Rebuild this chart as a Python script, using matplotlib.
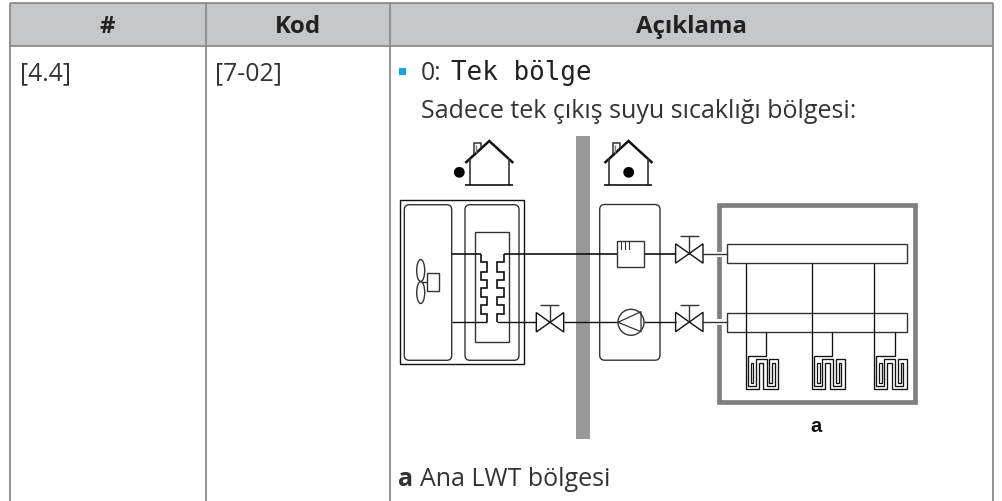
import matplotlib
matplotlib.use("Agg")
import matplotlib.pyplot as plt
from matplotlib.patches import Rectangle, Circle, FancyBboxPatch, Ellipse

# table text
col_headers = ["#", "Kod", "Açıklama"]
row_cells = ["[4.4]", "[7-02]"]
bullet_value = "0:"
bullet_name = "Tek bölge"
desc_line = "Sadece tek çıkış suyu sıcaklığı bölgesi:"
diagram_label = "a"
legend_key = "a"
legend_text = "Ana LWT bölgesi"

# table geometry (pixels)
col_x = [10, 206, 390, 993]
head_top = 3
head_bottom = 46
page_bottom = 501

fig = plt.figure(figsize=(10.03, 5.01), dpi=100)
ax = fig.add_axes([0, 0, 1, 1])
ax.set_xlim(0, 1003)
ax.set_ylim(501, 0)
ax.axis("off")

GRID = "#8a8a8a"
INK = "#111111"
SOFT = "#333333"
TEXT = "#333333"
FONT = "Open Sans"


def poly(xs, ys, c=INK, lw=1.0):
    ax.plot(xs, ys, color=c, lw=lw, solid_joinstyle="miter", solid_capstyle="butt")


def rounded(x0, y0, x1, y1, r=5, c=SOFT):
    ax.add_patch(FancyBboxPatch((x0 + r, y0 + r), x1 - x0 - 2 * r, y1 - y0 - 2 * r,
                                boxstyle=f"round,pad={r},rounding_size={r}",
                                fc="none", ec=c, lw=1.0))


def house(xc, dot_x):
    poly([xc - 24, xc, xc + 24], [163, 141, 163], lw=1.8)
    poly([xc - 19.5, xc - 19.5], [158, 185], c=SOFT, lw=1.2)
    poly([xc + 19.5, xc + 19.5], [158, 185], c=SOFT, lw=1.2)
    poly([xc - 24, xc + 24], [185, 185], lw=1.2)
    poly([xc - 15, xc - 15, xc - 8.5, xc - 8.5], [154, 143, 143, 148], c=SOFT, lw=1.1)
    poly([xc - 13.5, xc - 13.5], [145, 153], c="#777777", lw=1.0)
    ax.add_patch(Circle((dot_x, 172.3), 5.4, fc="black", ec="none"))


def valve(xc, yc):
    poly([xc, xc - 13.7, xc - 13.7, xc + 13.7, xc + 13.7, xc],
         [yc, yc - 9.7, yc + 9.7, yc - 9.7, yc + 9.7, yc], lw=1.0)
    poly([xc, xc], [yc, yc - 17.5], c=SOFT)
    poly([xc - 9.5, xc + 9.5], [yc - 17.5, yc - 17.5], c=SOFT)


loop_zx = [32, 32, 72, 72, 85, 85, 130, 130, 103, 103, 112, 112, 120, 120, 95, 95, 62, 62, 38, 38, 93, 93]
loop_zy = [0, 148, 148, 68, 68, 148, 148, 58, 58, 128, 128, 68, 68, 138, 138, 58, 58, 138, 138, 47, 47, 0]
inner_zx = [55, 48, 48, 55, 55]
inner_zy = [128, 128, 68, 68, 128]


def floor_coil(x0, xr, top):
    xs = [x0 + (z - 32) / 3 for z in loop_zx]
    ys = [340 + z / 3 for z in loop_zy]
    ys[0] = top
    xs[-1] = xs[-2] = xr
    ys[-1] = 332.3
    poly(xs, ys, lw=0.95)
    poly([x0 + (z - 32) / 3 for z in inner_zx], [340 + z / 3 for z in inner_zy], lw=0.9)


# table
ax.add_patch(Rectangle((col_x[0], head_top), col_x[3] - col_x[0], head_bottom - head_top,
                       fc="#c6c7c9", ec="none"))
poly([col_x[0], col_x[3]], [head_top, head_top], c=GRID, lw=1.3)
poly([col_x[0], col_x[3]], [head_bottom, head_bottom], c=GRID, lw=1.3)
for x in col_x:
    poly([x, x], [head_top, page_bottom], c=GRID, lw=1.3)

centers = [107.6, 298, 691.5]
for cx, t in zip(centers, col_headers):
    ax.text(cx, 26.5, t, ha="center", va="center", family=FONT, weight="bold", fontsize=17.3, color="#222222")

ax.text(20, 73.5, row_cells[0], va="center", family=FONT, fontsize=17.8, color=TEXT)
ax.text(215, 73.5, row_cells[1], va="center", family=FONT, fontsize=17.8, color=TEXT)

ax.add_patch(Rectangle((399.5, 68.3), 7, 6.7, fc="#12a5e0", ec="none"))
ax.text(420.5, 73.5, bullet_value, va="center", family=FONT, fontsize=17.8, color=TEXT)
ax.text(451.5, 72.5, bullet_name, va="center", family="DejaVu Sans Mono", fontsize=18.7, color="#222222")
ax.text(421, 111.5, desc_line, va="center", family=FONT, fontsize=18, color=TEXT)
ax.text(398, 479, legend_key, va="center", family=FONT, weight="bold", fontsize=18, color=TEXT)
ax.text(420, 479, legend_text, va="center", family=FONT, fontsize=18, color=TEXT)
ax.text(815.7, 426, diagram_label, ha="center", va="center", family="Liberation Sans", weight="bold",
        fontsize=14.5, color="#111111")

# houses and wall
house(489.3, 459.3)
house(628.5, 628.7)
ax.add_patch(Rectangle((576, 136), 14, 302.7, fc="#999999", ec="none"))

# outdoor unit
ax.add_patch(Rectangle((400.3, 200.3), 123.4, 164, fc="none", ec=INK, lw=1.0))
rounded(404.3, 204.7, 451.7, 360.3)
rounded(465, 204.7, 519, 360.3)
ax.add_patch(Rectangle((474.7, 231.7), 34.6, 110, fc="none", ec=SOFT, lw=1.0))

# fan and motor
ax.add_patch(Ellipse((420.7, 270.5), 8, 22, fc="none", ec=SOFT, lw=1.0))
ax.add_patch(Ellipse((420.7, 292.5), 8, 22, fc="none", ec=SOFT, lw=1.0))
ax.add_patch(Rectangle((427.3, 272.7), 11.4, 18, fc="none", ec=SOFT, lw=1.0))
poly([420.7, 427.3], [281.7, 281.7], c=SOFT)

# heat exchanger pipes
coil_y = [254, 261.7, 261.7, 271.7, 271.7, 280, 280, 288.3, 288.3, 296.7, 296.7, 305, 305, 314.3, 314.3, 322.3]
coil_l = [481, 481, 487.3, 487.3, 481, 481, 487.3, 487.3, 481, 481, 487.3, 487.3, 481, 481, 487.3, 487.3]
coil_r = [504, 504, 497.3, 497.3, 504, 504, 497.3, 497.3, 504, 504, 497.3, 497.3, 504, 504, 497.3, 497.3]
poly(coil_l, coil_y, lw=1.2)
poly(coil_r, coil_y, lw=1.2)

# pipes
poly([451.7, 481], [254, 254], lw=1.2)
poly([451.7, 487.3], [322.3, 322.3], lw=1.0)
poly([504, 617], [254, 254], lw=1.2)
poly([497.3, 536.3], [322.3, 322.3], lw=1.0)
poly([563.7, 618], [322.3, 322.3], lw=1.0)
poly([643.7, 675.6], [253.5, 253.5], lw=1.2)
poly([644, 675.6], [322.3, 322.3], lw=1.0)

valve(550, 322.3)
valve(689.3, 253.5)
valve(689.3, 322)

# indoor unit
rounded(599.7, 204.5, 660, 360.2)
ax.add_patch(Rectangle((617, 240.7), 26.7, 26.6, fc="white", ec=SOFT, lw=1.0, zorder=3))
for x in [621.5, 625.5, 629.5]:
    ax.plot([x, x], [241, 249], color=SOFT, lw=0.8, zorder=4)
ax.add_patch(Circle((631, 322.3), 13, fc="white", ec=SOFT, lw=1.0, zorder=3))
ax.plot([618, 641, 641, 618], [322.3, 311.7, 331.7, 322.3], color=SOFT, lw=0.9, zorder=4)

# room with breaks for the pipes
ax.add_patch(Rectangle((719.3, 204.7), 196, 197.3, fc="none", ec="#808080", lw=3.4))
for y0, y1 in [(251.5, 256.5), (319, 325)]:
    ax.add_patch(Rectangle((716, y0), 7, y1 - y0, fc="white", ec="none", zorder=3))
ax.plot([703, 727.3], [253.5, 253.5], color=SOFT, lw=1.0, zorder=4)
ax.plot([703, 727.3], [322, 322], color=SOFT, lw=1.0, zorder=4)

# manifolds and loops
ax.add_patch(Rectangle((727.3, 244), 180, 19.3, fc="none", ec=SOFT, lw=1.0))
ax.add_patch(Rectangle((727.3, 313), 180, 19.3, fc="none", ec=SOFT, lw=1.0))
for x0, xr in [(745.7, 765.7), (812, 832.3), (874, 894.7)]:
    floor_coil(x0, xr, 263.3)

fig.savefig("out.png", dpi=100)
